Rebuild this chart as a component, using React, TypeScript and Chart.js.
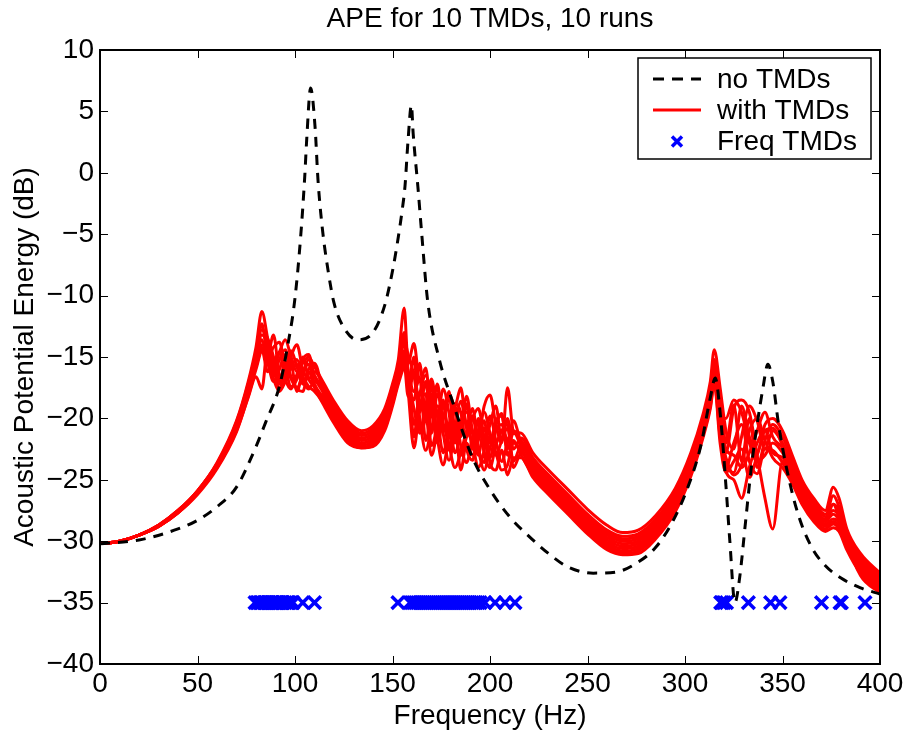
import React, { useEffect, useRef } from 'react';
import { Chart, registerables } from 'chart.js';

Chart.register(...registerables);

const FONT = '"Liberation Sans", Arial, Helvetica, sans-serif';
const FONT_SIZE = 28;

const titleText = 'APE for 10 TMDs, 10 runs';
const xLabel = 'Frequency (Hz)';
const yLabel = 'Acoustic Potential Energy (dB)';
const legendLabels = ['no TMDs', 'with TMDs', 'Freq TMDs'];

const xTicks = [0, 50, 100, 150, 200, 250, 300, 350, 400];
const yTicks = [-40, -35, -30, -25, -20, -15, -10, -5, 0, 5, 10];

// Response without TMDs (black dashed)
const noTmdFreq = [
  0, 20, 40, 50, 60, 70, 80, 85, 92, 96, 100, 103, 105, 106, 108, 110.3, 111.8, 114, 117, 120,
  125, 132, 140, 146, 150, 153, 155, 156.4, 158, 159.7, 160.6, 163, 165, 168, 174, 180.5, 191, 200, 210, 220, 230,
  240, 253, 265, 275, 285, 294, 301, 308, 313, 315.5, 318, 321, 323, 325.6, 328, 331, 334, 337, 340, 342.5,
  345, 348, 352, 358, 365, 372, 380, 390, 400,
];
const noTmdApe = [
  -30.2, -29.9, -29.0, -28.3, -27.2, -25.6, -22.3, -20.3, -17.4, -14.3, -10.2, -5.0, -0.3, 2.7, 6.9, 3.7, -0.6, -4.5, -8.0, -10.6,
  -12.6, -13.6, -13.0, -10.8, -8.0, -5.2, -3.0, -1.1, 2.7, 5.5, 3.2, -1.1, -5.0, -10.4, -15.2, -18.5, -23.2, -25.8, -28.0, -29.6, -31.0,
  -32.1, -32.6, -32.5, -31.8, -30.5, -28.3, -25.8, -22.3, -18.3, -16.7, -19.5, -25.5, -30.0, -35.0, -33.0, -28.5, -24.0, -20.5, -17.5, -15.6,
  -17.0, -20.5, -24.0, -27.8, -30.5, -32.0, -33.0, -33.8, -34.3,
];

// Responses with TMDs (red), one array per run, on a shared frequency grid
const runFreq = [
  0, 10, 20, 30, 40, 50, 60, 70, 76, 80,
  83, 86, 89, 92, 95, 98, 101, 104, 107, 110,
  115, 120, 127, 134, 140, 146, 150, 153, 156, 158,
  161, 164, 167, 170, 173, 176, 179, 182, 185, 188,
  191, 194, 197, 200, 203, 206, 209, 212, 216, 222,
  230, 240, 250, 260, 268, 276, 285, 295, 303, 309,
  313, 315, 318, 321, 325, 329, 333, 337, 341, 345,
  350, 355, 360, 366, 372, 376, 379, 383, 390, 400,
];
const run1 = [
  -30.2, -30.0, -29.5, -28.7, -27.5, -25.9, -23.6, -20.2, -17.0, -14.2,
  -11.3, -13.5, -15.8, -14.6, -13.6, -15.0, -16.2, -15.5, -15.0, -15.8,
  -17.2, -18.6, -20.2, -21.0, -20.6, -19.2, -17.2, -15.2, -11.0, -15.5,
  -13.9, -17.0, -15.9, -19.5, -17.2, -20.0, -18.0, -19.0, -17.5, -20.5,
  -19.2, -21.5, -19.0, -18.1, -20.5, -22.0, -17.5, -21.0, -21.2, -22.8,
  -24.2, -25.8, -27.4, -28.7, -29.3, -29.1, -27.9, -25.7, -22.8, -19.8,
  -17.0, -14.4, -17.5, -21.0, -22.5, -19.0, -21.5, -22.8, -20.5, -20.0,
  -21.0, -23.0, -25.0, -26.5, -27.5, -25.6, -26.5, -29.0, -31.0, -32.6,
];
const run2 = [
  -30.2, -30.0, -29.5, -28.7, -27.5, -25.9, -23.7, -20.3, -17.2, -14.6,
  -12.3, -14.8, -13.2, -16.5, -17.0, -15.0, -14.0, -16.0, -16.8, -16.2,
  -17.4, -18.8, -20.4, -21.2, -20.8, -19.4, -17.4, -15.6, -13.0, -16.8,
  -18.5, -15.5, -20.2, -17.2, -21.5, -18.5, -22.6, -19.0, -21.5, -18.8,
  -22.5, -20.0, -22.0, -20.5, -19.0, -21.8, -20.0, -22.5, -21.6, -23.2,
  -24.6, -26.2, -27.8, -29.1, -29.6, -29.4, -28.2, -26.0, -23.1, -20.1,
  -17.4, -15.2, -18.0, -22.0, -18.9, -23.5, -20.0, -24.0, -21.8, -20.5,
  -21.5, -23.4, -25.3, -26.8, -27.8, -27.0, -28.0, -29.3, -31.2, -32.8,
];
const run3 = [
  -30.2, -30.0, -29.5, -28.7, -27.5, -25.9, -23.7, -20.4, -17.3, -14.8,
  -12.8, -13.5, -15.0, -17.2, -15.4, -16.6, -17.5, -16.5, -15.2, -16.5,
  -17.6, -19.0, -20.6, -21.4, -21.0, -19.6, -17.6, -15.8, -13.6, -14.8,
  -16.5, -19.5, -17.0, -21.2, -18.0, -19.2, -17.8, -22.0, -20.2, -19.5,
  -21.2, -23.0, -20.8, -22.0, -20.2, -19.8, -22.5, -21.2, -21.8, -23.4,
  -24.8, -26.4, -28.0, -29.3, -29.8, -29.6, -28.4, -26.2, -23.3, -20.3,
  -17.8, -15.6, -18.5, -23.5, -24.4, -21.5, -19.0, -20.2, -22.5, -21.0,
  -22.0, -23.8, -25.6, -27.0, -28.0, -26.3, -27.2, -29.5, -31.4, -33.0,
];
const run4 = [
  -30.2, -30.0, -29.5, -28.7, -27.6, -26.0, -23.8, -20.5, -17.5, -15.0,
  -13.2, -14.0, -16.5, -15.2, -14.4, -16.0, -15.6, -17.0, -17.6, -17.0,
  -17.8, -19.2, -20.8, -21.6, -21.2, -19.8, -17.8, -16.0, -14.0, -16.0,
  -20.5, -18.0, -16.5, -18.8, -22.0, -20.0, -18.5, -20.8, -23.0, -21.5,
  -20.0, -19.2, -21.5, -23.2, -21.0, -20.5, -21.8, -20.2, -22.0, -23.6,
  -25.0, -26.6, -28.2, -29.5, -30.0, -29.8, -28.6, -26.4, -23.5, -20.5,
  -18.0, -15.8, -19.0, -22.5, -23.0, -24.0, -22.8, -21.0, -19.5, -21.5,
  -22.4, -24.1, -25.9, -27.3, -28.2, -27.5, -28.0, -29.8, -31.6, -33.2,
];
const run5 = [
  -30.2, -30.0, -29.5, -28.8, -27.6, -26.0, -23.8, -20.6, -17.6, -15.2,
  -13.6, -15.0, -14.2, -13.8, -15.8, -17.4, -16.8, -15.2, -14.8, -16.6,
  -18.0, -19.4, -21.0, -21.8, -21.4, -20.0, -18.0, -16.2, -14.5, -17.5,
  -15.0, -21.0, -19.0, -16.8, -19.8, -22.8, -20.5, -18.8, -19.5, -22.5,
  -23.4, -21.0, -19.5, -21.2, -23.0, -21.8, -20.8, -23.5, -22.2, -23.8,
  -25.2, -26.8, -28.4, -29.7, -30.2, -30.0, -28.8, -26.6, -23.7, -20.7,
  -18.2, -16.0, -19.5, -20.0, -18.5, -19.5, -22.0, -23.5, -23.0, -22.0,
  -22.8, -24.4, -26.1, -27.5, -28.4, -27.8, -28.3, -30.0, -31.8, -33.4,
];
const run6 = [
  -30.2, -30.0, -29.5, -28.8, -27.6, -26.0, -23.9, -20.7, -17.8, -15.4,
  -14.0, -14.8, -16.0, -17.5, -16.2, -14.5, -15.8, -17.2, -16.0, -15.5,
  -18.2, -19.6, -21.2, -22.0, -21.6, -20.2, -18.2, -16.4, -14.9, -16.2,
  -17.8, -16.8, -21.8, -19.5, -17.5, -21.2, -23.4, -21.0, -18.6, -20.8,
  -22.0, -24.0, -22.6, -19.8, -21.8, -23.5, -22.0, -21.0, -22.4, -24.0,
  -25.4, -27.0, -28.6, -29.9, -30.4, -30.2, -29.0, -26.8, -23.9, -20.9,
  -18.4, -16.2, -20.0, -24.3, -25.0, -26.5, -24.0, -22.0, -21.0, -22.8,
  -23.2, -24.7, -26.4, -27.8, -28.6, -28.2, -28.5, -30.2, -32.0, -33.6,
];
const run7 = [
  -30.2, -30.0, -29.5, -28.8, -27.6, -26.1, -23.9, -20.8, -17.9, -15.6,
  -14.2, -15.5, -17.0, -16.0, -14.8, -15.4, -17.8, -16.2, -15.6, -17.2,
  -18.4, -19.8, -21.4, -22.2, -21.8, -20.4, -18.4, -16.6, -15.2, -17.8,
  -22.4, -19.0, -18.0, -22.2, -20.5, -17.6, -19.6, -22.8, -21.0, -18.2,
  -21.0, -22.6, -24.2, -22.4, -20.6, -19.6, -23.0, -22.0, -22.6, -24.2,
  -25.6, -27.2, -28.8, -30.1, -30.6, -30.4, -29.2, -27.0, -24.1, -21.1,
  -18.6, -16.5, -20.5, -22.8, -19.2, -18.5, -19.5, -23.0, -26.5, -29.0,
  -23.5, -24.8, -26.7, -28.0, -28.8, -28.4, -28.8, -30.4, -32.2, -33.8,
];
const run8 = [
  -30.2, -30.0, -29.5, -28.8, -27.7, -26.1, -24.0, -20.9, -18.0, -15.8,
  -14.4, -16.2, -15.5, -14.6, -16.8, -17.6, -16.4, -15.0, -16.8, -17.4,
  -18.6, -20.0, -21.6, -22.4, -22.0, -20.6, -18.6, -16.8, -15.4, -16.6,
  -19.2, -21.2, -20.0, -18.0, -21.6, -23.8, -21.4, -19.4, -22.2, -23.6,
  -21.6, -20.4, -22.8, -24.0, -22.2, -21.0, -20.5, -24.0, -22.8, -24.4,
  -25.8, -27.4, -29.0, -30.3, -30.8, -30.6, -29.4, -27.2, -24.3, -21.3,
  -18.8, -16.8, -21.0, -24.0, -22.0, -20.5, -23.5, -24.5, -22.5, -22.6,
  -23.6, -25.0, -26.8, -28.2, -29.0, -28.6, -29.0, -30.5, -32.4, -34.0,
];
const run9 = [
  -30.2, -30.0, -29.5, -28.8, -27.7, -26.1, -24.0, -21.0, -18.2, -16.0,
  -14.6, -15.2, -16.8, -17.8, -17.0, -15.8, -15.2, -16.6, -17.4, -17.8,
  -18.8, -20.2, -21.8, -22.4, -22.2, -20.8, -18.8, -17.0, -15.6, -18.2,
  -16.2, -20.0, -22.6, -20.8, -19.0, -20.4, -22.2, -24.0, -22.8, -21.0,
  -19.8, -22.4, -23.6, -21.4, -22.8, -24.2, -23.8, -21.8, -23.0, -24.6,
  -26.0, -27.6, -29.2, -30.5, -31.0, -30.8, -29.6, -27.4, -24.5, -21.5,
  -19.0, -17.0, -21.5, -23.2, -24.6, -23.8, -21.0, -20.0, -21.8, -23.2,
  -24.0, -25.3, -27.0, -28.4, -29.2, -28.9, -29.2, -30.7, -32.6, -34.1,
];
const run10 = [
  -30.2, -30.0, -29.5, -28.8, -27.7, -26.2, -24.1, -21.1, -18.3, -16.6,
  -17.6, -14.3, -15.5, -16.8, -15.8, -16.8, -17.6, -17.8, -16.2, -17.5,
  -19.0, -20.4, -22.0, -22.4, -22.3, -21.0, -19.0, -17.2, -16.0, -16.8,
  -21.5, -17.8, -19.2, -23.0, -21.0, -18.8, -21.2, -20.6, -24.2, -22.0,
  -23.0, -21.8, -20.2, -23.6, -24.2, -22.6, -24.6, -23.2, -23.2, -24.8,
  -26.2, -27.8, -29.4, -30.7, -31.1, -31.0, -29.8, -27.6, -24.7, -21.7,
  -19.2, -17.2, -22.0, -24.4, -23.5, -22.5, -24.8, -23.0, -21.0, -20.8,
  -22.2, -24.2, -26.0, -27.6, -28.4, -27.0, -27.6, -30.0, -32.8, -34.2,
];
const runs = [run1, run2, run3, run4, run5, run6, run7, run8, run9, run10];

// Natural frequencies of the TMDs (blue crosses), all drawn at -35 dB
const tmdLevel = -35;
const tmdFreqs = [
  79.5, 80.5, 81, 82, 82.5, 83, 84, 84.5, 85, 86, 86.5, 87, 88, 88.5, 89, 90, 90.5, 91, 92, 93,
  93.5, 94, 95, 96, 96.5, 97, 98, 99, 104, 110,
  152.8, 159, 160, 161, 162, 163, 164, 165, 166, 167, 168, 169, 170, 171, 172, 173, 174, 175, 176, 177,
  178, 179, 180, 181, 182, 183, 184, 185, 186, 187, 188, 189, 190, 191, 192, 193, 194, 195, 197.4, 202.6,
  207.7, 212.8,
  318.3, 319, 320, 321.3, 332.5, 343.9, 348.7, 370, 379.5, 380.2, 392.3,
];

const PLOT_TOP = 50;

const titlePlugin = {
  id: 'centredTitle',
  afterDraw(chart: any) {
    const { ctx, chartArea } = chart;
    ctx.save();
    ctx.fillStyle = '#000';
    ctx.font = `${FONT_SIZE}px ${FONT}`;
    ctx.textAlign = 'center';
    ctx.textBaseline = 'alphabetic';
    ctx.fillText(titleText, (chartArea.left + chartArea.right) / 2, 27);
    ctx.restore();
  },
};

const axisBoxPlugin = {
  id: 'axisBox',
  afterDatasetsDraw(chart: any) {
    const { ctx, chartArea, scales } = chart;
    const { left, right, top, bottom } = chartArea;
    ctx.save();
    ctx.strokeStyle = '#000';
    ctx.lineWidth = 1;
    const tl = 8;
    ctx.beginPath();
    for (const t of xTicks) {
      const px = Math.round(scales.x.getPixelForValue(t)) + 0.5;
      ctx.moveTo(px, bottom);
      ctx.lineTo(px, bottom - tl);
      ctx.moveTo(px, top);
      ctx.lineTo(px, top + tl);
    }
    for (const t of yTicks) {
      const py = Math.round(scales.y.getPixelForValue(t)) + 0.5;
      ctx.moveTo(left, py);
      ctx.lineTo(left + tl, py);
      ctx.moveTo(right, py);
      ctx.lineTo(right - tl, py);
    }
    ctx.stroke();
    ctx.lineWidth = 2;
    ctx.strokeRect(left, top, right - left, bottom - top);
    ctx.restore();
  },
};

const legendPlugin = {
  id: 'boxedLegend',
  afterDraw(chart: any) {
    const { ctx } = chart;
    const bx = 638, by = 58, bw = 233, bh = 101;
    ctx.save();
    ctx.fillStyle = '#fff';
    ctx.fillRect(bx, by, bw, bh);
    ctx.strokeStyle = '#000';
    ctx.lineWidth = 1.5;
    ctx.strokeRect(bx, by, bw, bh);
    const rows = [79, 110, 141.5];
    const x0 = 653, x1 = 701;
    ctx.lineWidth = 3;
    ctx.strokeStyle = '#000';
    ctx.setLineDash([11, 8]);
    ctx.beginPath();
    ctx.moveTo(x0, rows[0]);
    ctx.lineTo(x1, rows[0]);
    ctx.stroke();
    ctx.setLineDash([]);
    ctx.strokeStyle = '#ff0000';
    ctx.beginPath();
    ctx.moveTo(x0, rows[1]);
    ctx.lineTo(x1, rows[1]);
    ctx.stroke();
    ctx.strokeStyle = '#0000ff';
    ctx.lineWidth = 3.5;
    const cx = 677, cy = rows[2], r = 5;
    ctx.beginPath();
    ctx.moveTo(cx - r, cy - r);
    ctx.lineTo(cx + r, cy + r);
    ctx.moveTo(cx - r, cy + r);
    ctx.lineTo(cx + r, cy - r);
    ctx.stroke();
    ctx.fillStyle = '#000';
    ctx.font = `${FONT_SIZE}px ${FONT}`;
    ctx.textBaseline = 'middle';
    ctx.textAlign = 'left';
    legendLabels.forEach((lbl, i) => ctx.fillText(lbl, 717, rows[i] + 1));
    ctx.restore();
  },
};

const fmtTick = (v: number) => (v < 0 ? '\u2212' + Math.abs(v) : String(v));

export default function App() {
  const ref = useRef<HTMLCanvasElement | null>(null);

  useEffect(() => {
    if (!ref.current) return;
    const datasets: any[] = [];
    datasets.push({
      label: legendLabels[0],
      data: noTmdFreq.map((f, i) => ({ x: f, y: noTmdApe[i] })),
      borderColor: '#000',
      borderWidth: 3,
      borderDash: [10, 8],
      pointRadius: 0,
      fill: false,
      cubicInterpolationMode: 'monotone',
      order: 0,
    });
    runs.forEach((run, k) => {
      datasets.push({
        label: k === 0 ? legendLabels[1] : `${legendLabels[1]} ${k + 1}`,
        data: runFreq.map((f, i) => ({ x: f, y: run[i] })),
        borderColor: '#ff0000',
        borderWidth: 3,
        pointRadius: 0,
        fill: false,
        cubicInterpolationMode: 'monotone',
        order: 1,
      });
    });
    datasets.push({
      type: 'scatter',
      label: legendLabels[2],
      data: tmdFreqs.map((f) => ({ x: f, y: tmdLevel })),
      showLine: false,
      pointStyle: 'crossRot',
      pointRadius: 9,
      pointBorderWidth: 3.5,
      borderColor: '#0000ff',
      backgroundColor: '#0000ff',
      order: 2,
    });

    const chart = new Chart(ref.current, {
      type: 'line',
      data: { datasets },
      plugins: [axisBoxPlugin, legendPlugin, titlePlugin],
      options: {
        animation: false,
        responsive: false,
        devicePixelRatio: 1,
        layout: { padding: { left: 0, right: 29, top: PLOT_TOP, bottom: 0 } },
        plugins: {
          legend: { display: false },
          tooltip: { enabled: false },
          title: { display: false },
        },
        scales: {
          x: {
            type: 'linear',
            min: 0,
            max: 400,
            afterBuildTicks: (s: any) => {
              s.ticks = xTicks.map((v) => ({ value: v }));
            },
            afterFit: (s: any) => {
              s.height = 69;
            },
            grid: { display: false, drawTicks: false },
            border: { display: false },
            ticks: {
              color: '#000',
              font: { family: FONT, size: FONT_SIZE },
              padding: 3,
              maxRotation: 0,
              callback: (v: any) => fmtTick(Number(v)),
            },
            title: {
              display: true,
              text: xLabel,
              color: '#000',
              font: { family: FONT, size: FONT_SIZE },
              padding: { top: 0, bottom: 0 },
            },
          },
          y: {
            type: 'linear',
            min: -40,
            max: 10,
            afterBuildTicks: (s: any) => {
              s.ticks = yTicks.map((v) => ({ value: v }));
            },
            afterFit: (s: any) => {
              s.width = 100;
            },
            grid: { display: false, drawTicks: false },
            border: { display: false },
            ticks: {
              color: '#000',
              font: { family: FONT, size: FONT_SIZE },
              padding: 6,
              callback: (v: any) => fmtTick(Number(v)),
            },
            title: {
              display: true,
              text: yLabel,
              color: '#000',
              font: { family: FONT, size: FONT_SIZE },
              padding: { top: 8, bottom: 0 },
            },
          },
        },
      },
    } as any);
    return () => chart.destroy();
  }, []);

  return (
    <div style={{ position: 'absolute', left: 0, top: 0, width: 909, height: 733, background: '#fff' }}>
      <canvas ref={ref} width={909} height={733} style={{ display: 'block' }} />
    </div>
  );
}
